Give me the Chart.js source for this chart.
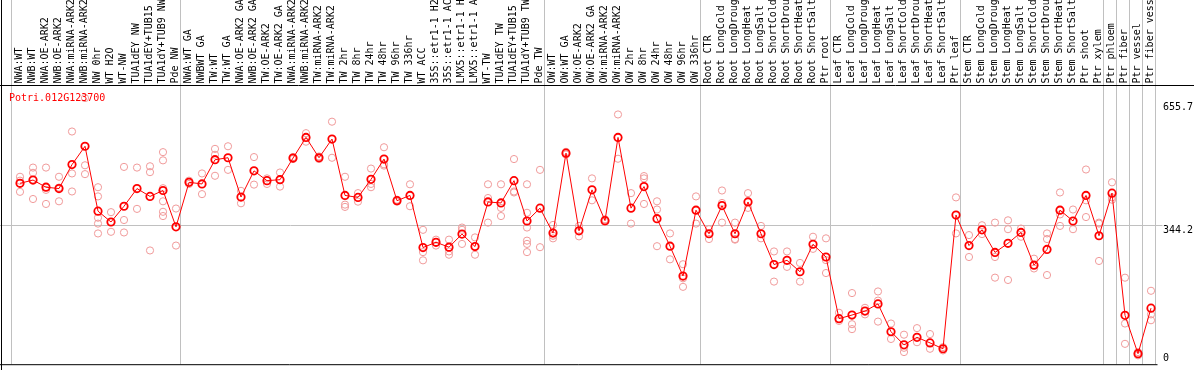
<!DOCTYPE html>
<html><head><meta charset="utf-8">
<script src="https://cdn.jsdelivr.net/npm/chart.js@4.4.1/dist/chart.umd.min.js"></script>
<style>html,body{margin:0;padding:0;background:#fff;overflow:hidden}canvas{display:block}</style>
</head><body>
<canvas id="c" width="1194" height="370"></canvas>
<script>
const title = "Potri.012G123700";
const categories = [
"NWA:WT","NWB:WT","NWA:OE-ARK2","NWB:OE-ARK2","NWA:miRNA-ARK2","NWB:miRNA-ARK2","NW 0hr","WT H2O","WT-NW","TUA1dEY NW",
"TUA1dEY+TUB15","TUA1dY+TUB9 NW","Pde NW","NWA:WT GA","NWBWT GA","TW:WT","TW:WT GA","NWA:OE-ARK2 GA","NWB:OE-ARK2 GA","TW:OE-ARK2",
"TW:OE-ARK2 GA","NWA:miRNA-ARK2","NWB:miRNA-ARK2","TW:miRNA-ARK2","TW:miRNA-ARK2","TW 2hr","TW 8hr","TW 24hr","TW 48hr","TW 96hr",
"TW 336hr","WT ACC","35S::etr1-1 H2","35S::etr1-1 AC","LMX5::etr1-1 H","LMX5::etr1-1 A","WT-TW","TUA1dEY TW","TUA1dEY+TUB15","TUA1dY+TUB9 TW",
"Pde TW","OW:WT","OW:WT GA","OW:OE-ARK2","OW:OE-ARK2 GA","OW:miRNA-ARK2","OW:miRNA-ARK2","OW 2hr","OW 8hr","OW 24hr",
"OW 48hr","OW 96hr","OW 336hr","Root CTR","Root LongCold","Root LongDroug","Root LongHeat","Root LongSalt","Root ShortCold","Root ShortDrou",
"Root ShortHeat","Root ShortSalt","Ptr root","Leaf CTR","Leaf LongCold","Leaf LongDroug","Leaf LongHeat","Leaf LongSalt","Leaf ShortCold","Leaf ShortDrou",
"Leaf ShortHeat","Leaf ShortSalt","Ptr leaf","Stem CTR","Stem LongCold","Stem LongDroug","Stem LongHeat","Stem LongSalt","Stem ShortCold","Stem ShortDrou",
"Stem ShortHeat","Stem ShortSalt","Ptr shoot","Ptr xylem","Ptr phloem","Ptr fiber","Ptr vessel","Ptr fiber vess"
];
const meanValues = [
452.0,460.3,442.1,438.7,499.4,545.9,381.4,354.0,393.9,438.7,
418.8,433.8,341.6,454.5,450.4,511.8,516.8,417.2,483.6,458.7,
461.2,516.0,568.3,516.8,564.2,421.3,416.3,462.0,513.5,408.0,
421.3,289.2,302.5,290.1,323.3,291.7,404.7,402.2,458.7,356.5,
389.0,325.8,528.5,331.6,435.4,357.4,568.3,389.0,443.7,362.3,
292.6,217.0,383.9,324.1,395.5,324.1,404.7,324.1,246.1,256.8,
227.8,297.5,265.2,109.0,118.1,128.1,146.4,75.8,42.5,61.6,
47.5,32.6,371.5,294.2,334.1,276.8,300.0,327.5,244.4,284.3,
383.9,356.5,421.3,319.1,427.1,117.3,20.1,135.6
];
const replicateValues = [
[468.6,458.7,430.4],[491.9,478.6,412.2],[491.9,435.4,399.7],[468.6,441.2,406.4],[583.3,477.0,431.3],
[668.0,497.7,475.3],[442.1,418.8,364.8,349.9,324.9],[378.9,354.0,329.1],[493.6,359.0,327.4],[491.9,387.2],
[495.2,480.3,281.8],[531.0,510.2,439.6,406.4,379.8,369.0],[388.1,294.2],[458.7,450.4],[477.0,424.6],
[539.3,524.3,471.1],[545.9,486.1],[432.9,401.4],[518.5,448.7],[464.5,450.4],
[479.4,443.7],[518.5,513.5],[579.1,557.5],[520.1,513.5],[608.2,516.8],
[468.6,398.0,392.2],[427.1,405.5],[489.4,450.4,442.1],[543.4,500.2,496.9],[410.5,405.5],
[449.5,393.9],[334.1,277.6,256.8],[309.2,294.2],[309.2,279.3,271.0],[339.9,334.1,298.4],
[314.9,271.0],[449.5,414.7,352.4],[449.5,389.7,369.0],[513.5,431.3,428.8],[449.5,377.3,339.9,306.7,298.4,277.6],
[486.1,290.1],[346.5,319.1,312.5],[531.8,525.1],[344.0,317.5],[464.5,408.9],
[360.7,354.0],[626.5,514.3],[427.1,349.9],[470.3,464.5,399.7],[406.4,385.6,292.6],
[325.0,259.3],[246.9,211.2,189.6],[418.8,349.9],[335.7,310.8],[433.8,402.2,352.4],
[352.4,310.8,309.2],[427.1,389.7],[344.0,312.5],[279.3,202.9],[279.3,240.2],
[250.2,202.9],[316.6,285.9],[312.5,257.3,224.6],[123.9,103.2],[173.8,94.9,82.4],
[136.4,119.8],[177.9,154.7,101.5],[96.6,57.5],[68.3,35.1,24.3],[84.9,49.2],
[69.9,32.6],[36.7,28.4],[416.3,325.0],[320.8,265.2],[345.7,323.3],
[352.4,265.2,212.9],[358.2,335.7,207.0],[337.4,316.6],[261.0,236.1],[325.0,310.8,219.5],
[428.8,373.1,344.0],[385.6,335.7],[487.0,408.9,366.5],[352.4,349.9,255.2],[454.5,416.3,410.5],
[212.8,96.6,45.1],[24.3,16.0],[179.6,119.8,104.9]
];
const yTickValues = [0, 344.2, 655.7];
const gridValue = 344.2;
const groupStarts = [0, 13, 41, 53, 63, 73, 84, 85, 86, 87, 88];
const yMin = -6.5, yMax = 701.2;

const FONT = '10px "DejaVu Sans Mono", monospace';

const meanPoints = meanValues.map((v, i) => ({x: i, y: v}));
const repPoints = replicateValues.flatMap((arr, i) => arr.map(v => ({x: i, y: v})));

const decor = {
  id: 'decor',
  beforeDatasetsDraw(chart) {
    const {ctx, chartArea: a, scales: {x, y}} = chart;
    ctx.save();
    ctx.strokeStyle = '#c0c0c0'; ctx.lineWidth = 1;
    groupStarts.forEach(k => {
      const px = Math.floor(x.getPixelForValue(k - 0.5) - 2) + 0.5;
      ctx.beginPath(); ctx.moveTo(px, 0); ctx.lineTo(px, a.bottom); ctx.stroke();
    });
    const gy = Math.floor(y.getPixelForValue(gridValue)) + 0.5;
    ctx.beginPath(); ctx.moveTo(0, gy); ctx.lineTo(a.right + 5, gy); ctx.stroke();
    ctx.restore();
  },
  afterDraw(chart) {
    const {ctx, chartArea: a, scales: {x, y}, width} = chart;
    ctx.save();
    ctx.strokeStyle = '#000'; ctx.lineWidth = 1;
    ctx.beginPath(); ctx.moveTo(1.5, 0); ctx.lineTo(1.5, chart.height); ctx.stroke();
    ctx.beginPath(); ctx.moveTo(0, a.top + 0.5); ctx.lineTo(width, a.top + 0.5); ctx.stroke();
    ctx.beginPath(); ctx.moveTo(0, a.bottom + 0.5); ctx.lineTo(a.right, a.bottom + 0.5); ctx.stroke();
    ctx.font = FONT;
    ctx.fillStyle = '#000';
    ctx.textAlign = 'left'; ctx.textBaseline = 'alphabetic';
    categories.forEach((lab, i) => {
      const px = x.getPixelForValue(i);
      ctx.save();
      ctx.translate(px + 2, a.top - 1.5);
      ctx.rotate(-Math.PI / 2);
      ctx.fillText(lab, 0, 0);
      ctx.restore();
    });
    yTickValues.forEach(v => {
      const py = Math.min(y.getPixelForValue(v) + 7.5, a.bottom - 3.5);
      ctx.fillText(String(v), a.right + 5.5, py);
    });
    ctx.fillStyle = '#ff0000';
    ctx.fillText(title, 9, a.top + 15.5);
    ctx.restore();
  }
};

new Chart(document.getElementById('c'), {
  type: 'line',
  data: {
    datasets: [
      { label: 'mean', data: meanPoints, borderColor: '#ff0000', borderWidth: 1,
        pointStyle: 'circle', pointRadius: 3.7, pointBorderWidth: 1.8,
        pointBorderColor: '#ff0000', pointBackgroundColor: 'rgba(0,0,0,0)',
        order: 0, clip: false, fill: false },
      { label: 'replicates', data: repPoints, showLine: false,
        pointStyle: 'circle', pointRadius: 3.6, pointBorderWidth: 1,
        pointBorderColor: '#f09a9a', pointBackgroundColor: 'rgba(0,0,0,0)',
        order: 1, clip: false }
    ]
  },
  options: {
    responsive: false,
    animation: false,
    devicePixelRatio: 1,
    events: [],
    layout: { padding: { left: 13.5, right: 36.5, top: 85, bottom: 1 } },
    plugins: { legend: { display: false }, tooltip: { enabled: false }, title: { display: false } },
    scales: {
      x: { type: 'linear', min: -0.5, max: categories.length - 0.5, display: false },
      y: { type: 'linear', min: yMin, max: yMax, display: false }
    }
  },
  plugins: [decor]
});
</script>
</body></html>
